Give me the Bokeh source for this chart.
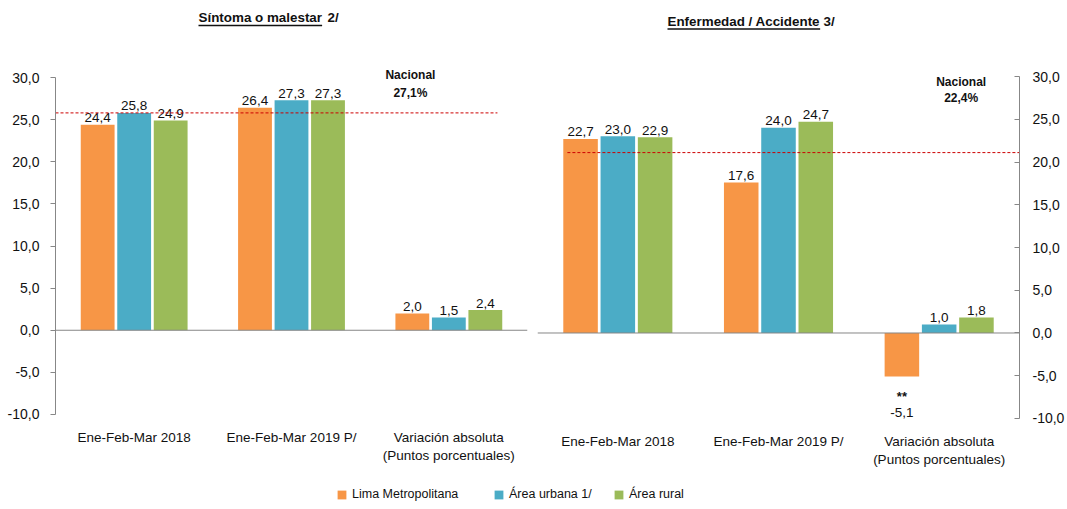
import numpy as np
from bokeh.plotting import figure
from bokeh.models import Range1d, FixedTicker, Span, Label, Legend, LegendItem
from bokeh.layouts import column, row
from bokeh.embed import file_html
from bokeh.resources import INLINE
from bokeh.core.properties import value

# ---------------- data ----------------
categories = ["Ene-Feb-Mar 2018", "Ene-Feb-Mar 2019 P/", "Variación absoluta\n(Puntos porcentuales)"]
series_names = ["Lima Metropolitana", "Área urbana 1/", "Área rural"]
colors = ["#F79646", "#4BACC6", "#9BBB59"]

sintoma_lima = [24.4, 26.4, 2.0]
sintoma_urbana = [25.8, 27.3, 1.5]
sintoma_rural = [24.9, 27.3, 2.4]
sintoma_nacional_text = ["Nacional", "27,1%"]
sintoma_nacional_line = 25.8

enfermedad_lima = [22.7, 17.6, -5.1]
enfermedad_urbana = [23.0, 24.0, 1.0]
enfermedad_rural = [22.9, 24.7, 1.8]
enfermedad_lima_sig = ["", "", "**"]
enfermedad_nacional_text = ["Nacional", "22,4%"]
enfermedad_nacional_line = 21.1

y_ticks = [-10, -5, 0, 5, 10, 15, 20, 25, 30]
y_tick_labels = ["-10,0", "-5,0", "0,0", "5,0", "10,0", "15,0", "20,0", "25,0", "30,0"]

titles = [("Síntoma o malestar", "2/"), ("Enfermedad / Accidente", "3/")]

FONT = "Liberation Sans"
AXIS_COLOR = "#878787"
TXT = "#111111"


def fmt(v):
    return f"{v:.1f}".replace(".", ",")


def make_chart(series, sig, nac_text, nac_line, nac_x0, nac_x1, nac_pos, side,
               width, height, borders, yr, x_standoff):
    bl, br, bt, bb = borders
    p = figure(width=width, height=height, x_range=Range1d(-0.5, 2.5),
               y_range=Range1d(*yr), output_backend="svg",
               toolbar_location=None, y_axis_location=side,
               min_border_left=bl, min_border_right=br,
               min_border_top=bt, min_border_bottom=bb)
    p.outline_line_color = None
    p.xgrid.visible = False
    p.ygrid.visible = False
    p.background_fill_color = "white"
    p.border_fill_color = "white"

    cat_idx = np.arange(len(categories))
    offsets = [-0.232, 0.0, 0.232]
    bw = 0.215
    for vals, off, col in zip(series, offsets, colors):
        xs = cat_idx + off
        p.vbar(x=xs, top=vals, bottom=0, width=bw, fill_color=col, line_color=None)
        pos = [(x, v) for x, v in zip(xs, vals) if v >= 0]
        neg = [(x, v) for x, v in zip(xs, vals) if v < 0]
        if pos:
            p.text(x=[a for a, _ in pos], y=[b for _, b in pos],
                   text=[fmt(b) for _, b in pos], text_align="center",
                   text_baseline="middle", y_offset=-7,
                   text_font=value(FONT), text_font_size="13.5px", text_color=TXT)
        if neg:
            p.text(x=[a for a, _ in neg], y=[b for _, b in neg],
                   text=[fmt(b) for _, b in neg], text_align="center",
                   text_baseline="middle", y_offset=36,
                   text_font=value(FONT), text_font_size="13.5px", text_color=TXT)

    if sig is not None:
        xs = cat_idx + offsets[0]
        vals = series[0]
        mk = [(x, v, s) for x, v, s in zip(xs, vals, sig) if s]
        if mk:
            p.text(x=[a for a, _, _ in mk], y=[b for _, b, _ in mk],
                   text=[s for _, _, s in mk], text_align="center",
                   text_baseline="middle", y_offset=20,
                   text_font=value(FONT), text_font_size="13px",
                   text_font_style="bold", text_color=TXT)

    # zero line
    p.add_layout(Span(location=0, dimension="width", line_color=AXIS_COLOR, line_width=1))

    # nacional reference line
    p.segment(x0=[nac_x0], y0=[nac_line], x1=[nac_x1], y1=[nac_line],
              line_color="#CC0000", line_width=1, line_dash="3 2")
    (nx, ny1, ny2) = nac_pos
    for t, yy in zip(nac_text, [ny1, ny2]):
        p.add_layout(Label(x=nx, y=yy, text=t, text_align="center",
                           text_baseline="middle", text_font=FONT,
                           text_font_size="12px", text_font_style="bold",
                           text_color=TXT))

    # axes
    ya = p.yaxis[0]
    ya.ticker = FixedTicker(ticks=y_ticks)
    ya.bounds = (y_ticks[0], y_ticks[-1])
    ya.major_label_overrides = {t: l for t, l in zip(y_ticks, y_tick_labels)}
    ya.axis_line_color = AXIS_COLOR
    ya.major_tick_line_color = AXIS_COLOR
    ya.minor_tick_line_color = None
    if side == "left":
        ya.major_tick_out = 5
        ya.major_tick_in = 0
        ya.major_label_standoff = 11
    else:
        ya.major_tick_out = 0
        ya.major_tick_in = 5
        ya.major_label_standoff = 13
    ya.major_label_text_font = FONT
    ya.major_label_text_font_size = "14px"
    ya.major_label_text_color = TXT

    xa = p.xaxis[0]
    xa.ticker = FixedTicker(ticks=list(range(len(categories))))
    xa.major_label_overrides = {i: c for i, c in enumerate(categories)}
    xa.axis_line_color = None
    xa.major_tick_line_color = None
    xa.minor_tick_line_color = None
    xa.major_tick_out = 0
    xa.major_tick_in = 0
    xa.major_label_standoff = x_standoff
    xa.major_label_text_font = FONT
    xa.major_label_text_font_size = "13.5px"
    xa.major_label_text_color = TXT
    return p


ROW_H = 424
pL = make_chart([sintoma_lima, sintoma_urbana, sintoma_rural], None,
                sintoma_nacional_text, sintoma_nacional_line, -0.5, 2.309,
                (1.756, 30.24, 28.16), "left", 531, ROW_H, (55, 4, 20, 50),
                (-10.95, 31.07), 7)
pR = make_chart([enfermedad_lima, enfermedad_urbana, enfermedad_rural], enfermedad_lima_sig,
                enfermedad_nacional_text, enfermedad_nacional_line, -0.314, 2.5,
                (2.137, 29.33, 27.43), "right", 536, ROW_H, (6, 44, 20, 50),
                (-10.468, 30.936), 11)

# ---------------- titles ----------------
W = 1067
TH = 48
pT = figure(width=W, height=TH, x_range=Range1d(0, W), y_range=Range1d(TH, 0),
            output_backend="svg", toolbar_location=None,
            x_axis_location=None, y_axis_location=None,
            min_border_left=0, min_border_right=0, min_border_top=0, min_border_bottom=0)
pT.outline_line_color = None
pT.xgrid.visible = False
pT.ygrid.visible = False
TFS = 13.4
title_pos = [(198, 16.8, 25.0, 327), (667, 20.5, 28.5, 823)]
width_em = [9.225, 11.392]
for (main, note), (tx, ty, uy, nx), wem in zip(titles, title_pos, width_em):
    pT.text(x=[tx], y=[ty], text=[main], text_align="left", text_baseline="middle",
            text_font=value(FONT), text_font_size=f"{TFS}px", text_font_style="bold",
            text_color=TXT)
    pT.text(x=[nx], y=[ty], text=[note], text_align="left", text_baseline="middle",
            text_font=value(FONT), text_font_size=f"{TFS}px", text_font_style="bold",
            text_color=TXT)
    pT.segment(x0=[tx], y0=[uy], x1=[tx + wem * TFS], y1=[uy],
               line_color=TXT, line_width=1.3)

# ---------------- legend ----------------
LH = 509 - TH - ROW_H
pLeg = figure(width=W, height=LH, x_range=Range1d(0, 1), y_range=Range1d(0, 1),
              output_backend="svg", toolbar_location=None,
              x_axis_location=None, y_axis_location=None,
              min_border_left=0, min_border_right=0, min_border_top=0, min_border_bottom=0)
pLeg.outline_line_color = None
pLeg.xgrid.visible = False
pLeg.ygrid.visible = False
leg_x = [336, 493, 613]
for name, col, lx in zip(series_names, colors, leg_x):
    r = pLeg.vbar(x=[-5], top=[-5], bottom=[-6], width=0.1, fill_color=col, line_color=None)
    lg = Legend(items=[LegendItem(label=name, renderers=[r])], location=(lx, 8),
                orientation="horizontal", glyph_width=11, glyph_height=11,
                label_height=11, label_standoff=5, padding=0, margin=0,
                spacing=0, border_line_color=None, background_fill_alpha=0,
                label_text_font=FONT, label_text_font_size="12.5px",
                label_text_color=TXT)
    pLeg.add_layout(lg)

layout = column(pT, row(pL, pR), pLeg)
open("out.html", "w").write(file_html(layout, INLINE))
